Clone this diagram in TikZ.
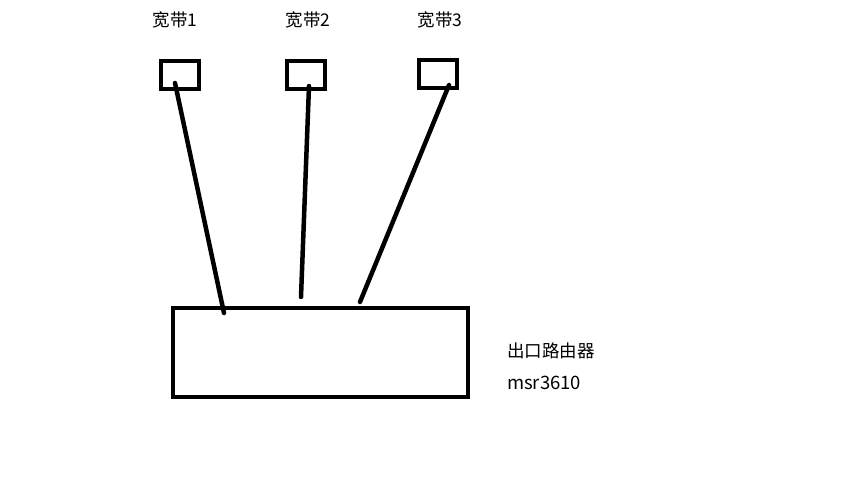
\documentclass[tikz,border=0pt]{standalone}
\usepackage{fontspec}
\setmainfont{Noto Sans CJK SC}
\begin{document}
\begin{tikzpicture}[x=1pt,y=-1pt,
  smallbox/.style={draw,line width=4pt,minimum width=38pt,minimum height=28pt,inner sep=0pt},
  bigbox/.style={draw,line width=4pt,minimum width=295pt,minimum height=89pt,inner sep=0pt},
  wire/.style={line width=4.5pt,line cap=round},
  lbl/.style={inner sep=0pt,font=\fontsize{17.5pt}{20pt}\selectfont},
  lat/.style={inner sep=0pt,font=\fontsize{18.5pt}{20pt}\selectfont}]
\useasboundingbox (0,0) rectangle (847,492);
\node[smallbox] (b1) at (180,75) {};
\node[smallbox] (b2) at (305.5,75) {};
\node[smallbox] (b3) at (438,74.5) {};
\node[bigbox] (r) at (320.5,352.5) {};
\node[lbl,anchor=base] (t1) at (175,27) {宽带1};
\node[lbl,anchor=base] (t2) at (308,27) {宽带2};
\node[lbl,anchor=base] (t3) at (440,27) {宽带3};
\node[lbl,anchor=base west] (rn) at (507,357) {出口路由器};
\node[lat,anchor=base west] (rm) at (507,389) {msr3610};
\coordinate (s1) at (175,83);
\coordinate (s2) at (309,86);
\coordinate (s3) at (449,85);
\coordinate (e1) at (224,313);
\coordinate (e2) at (301,297);
\coordinate (e3) at (360,302);
\draw[wire] (s1) -- (e1);
\draw[wire] (s2) -- (e2);
\draw[wire] (s3) -- (e3);
\end{tikzpicture}
\end{document}
